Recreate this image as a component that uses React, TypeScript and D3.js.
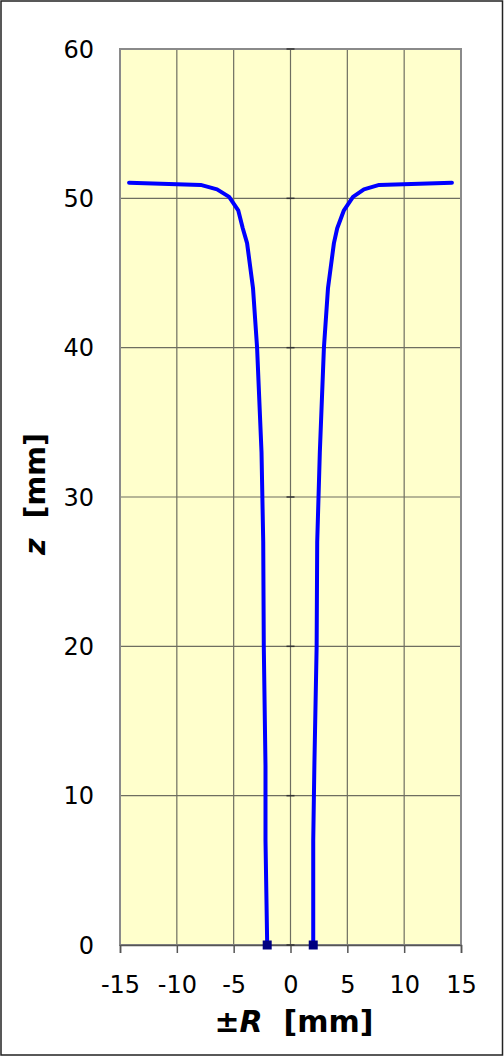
import { useEffect, useRef } from "react";
import * as d3 from "d3";

// heights along the profile (shared by both halves)
const zValues = [0, 7, 12, 20, 27, 33, 40, 44, 47, 48, 49.2, 50.1, 50.6, 50.9, 51.05];
// radius of the right half (+R)
const rightR = [2.0, 2.0, 2.1, 2.3, 2.35, 2.58, 2.94, 3.3, 3.82, 4.11, 4.7, 5.5, 6.46, 7.8, 14.2];
// radius of the left half (-R)
const leftR = [-2.05, -2.2, -2.2, -2.35, -2.4, -2.55, -2.94, -3.3, -3.82, -4.2, -4.6, -5.4, -6.46, -7.9, -14.2];

const xTicks = [-15, -10, -5, 0, 5, 10, 15];
const yTicks = [0, 10, 20, 30, 40, 50, 60];

const W = 504;
const H = 1058;
const FONT = "'DejaVu Sans', Verdana, sans-serif";

export default function App() {
  const svgRef = useRef<SVGSVGElement>(null);

  useEffect(() => {
    if (!svgRef.current) return;
    const svg = d3.select(svgRef.current);
    svg.selectAll("*").remove();

    const margin = { top: 49, right: 43, bottom: 113, left: 120 };
    const innerWidth = W - margin.left - margin.right;
    const innerHeight = H - margin.top - margin.bottom;

    const x = d3.scaleLinear().domain([-15, 15]).range([0, innerWidth]);
    const y = d3.scaleLinear().domain([0, 60]).range([innerHeight, 0]);

    // outer frame
    svg
      .append("rect")
      .attr("x", 1)
      .attr("y", 1)
      .attr("width", W - 2.5)
      .attr("height", H - 4)
      .attr("fill", "#fff")
      .attr("stroke", "#222")
      .attr("stroke-width", 1.5);

    const g = svg
      .append("g")
      .attr("transform", `translate(${margin.left},${margin.top})`);

    // plot background
    g.append("rect")
      .attr("width", innerWidth)
      .attr("height", innerHeight)
      .attr("fill", "#ffffcc");

    // grid
    xTicks.slice(1, -1).forEach((t) => {
      g.append("line")
        .attr("x1", x(t))
        .attr("x2", x(t))
        .attr("y1", 0)
        .attr("y2", innerHeight)
        .attr("stroke", "#6e6e60")
        .attr("stroke-width", 1.2);
    });
    yTicks.slice(1, -1).forEach((t) => {
      g.append("line")
        .attr("x1", 0)
        .attr("x2", innerWidth)
        .attr("y1", y(t))
        .attr("y2", y(t))
        .attr("stroke", "#6e6e60")
        .attr("stroke-width", 1.2);
    });

    // plot border
    g.append("rect")
      .attr("width", innerWidth)
      .attr("height", innerHeight)
      .attr("fill", "none")
      .attr("stroke", "#8a8a8a")
      .attr("stroke-width", 2);

    // x axis
    const xAxis = g
      .append("g")
      .attr("transform", `translate(0,${innerHeight})`)
      .call(d3.axisBottom(x).tickValues(xTicks).tickSize(8).tickPadding(23).tickFormat((d) => String(d)));
    xAxis.select(".domain").attr("stroke", "#555").attr("stroke-width", 1.5);
    xAxis.selectAll(".tick line").attr("stroke", "#555").attr("stroke-width", 1.5);
    xAxis
      .selectAll(".tick text")
      .attr("fill", "#000")
      .attr("font-size", 24)
      .attr("font-family", FONT);

    // y axis crosses at x = 0: small tick marks on the line
    yTicks.forEach((t) => {
      g.append("line")
        .attr("x1", x(0) - 4)
        .attr("x2", x(0) + 4)
        .attr("y1", y(t))
        .attr("y2", y(t))
        .attr("stroke", "#333")
        .attr("stroke-width", 1.5);
    });

    // y tick labels
    yTicks.forEach((t) => {
      g.append("text")
        .attr("x", -26)
        .attr("y", y(t))
        .attr("dy", "0.36em")
        .attr("text-anchor", "end")
        .attr("font-size", 24)
        .attr("font-family", FONT)
        .attr("fill", "#000")
        .text(t);
    });

    // profile lines
    const line = d3
      .line<[number, number]>()
      .x((d) => x(d[0]))
      .y((d) => y(d[1]));

    [rightR, leftR].forEach((rs) => {
      const pts = rs.map((r, i) => [r, zValues[i]] as [number, number]);
      g.append("path")
        .datum(pts)
        .attr("fill", "none")
        .attr("stroke", "#0000ff")
        .attr("stroke-width", 4)
        .attr("stroke-linejoin", "round")
        .attr("stroke-linecap", "round")
        .attr("d", line);
      g.append("rect")
        .attr("x", x(pts[0][0]) - 4.5)
        .attr("y", y(pts[0][1]) - 4.5)
        .attr("width", 9)
        .attr("height", 9)
        .attr("fill", "#000080");
    });

    // x axis label
    const xl = svg
      .append("text")
      .attr("x", 294)
      .attr("y", 1032)
      .attr("text-anchor", "middle")
      .attr("font-size", 30)
      .attr("font-weight", "bold")
      .attr("font-family", FONT)
      .attr("fill", "#000");
    xl.append("tspan").text("±");
    xl.append("tspan").attr("font-style", "italic").text("R");
    xl.append("tspan").attr("xml:space", "preserve").text("  [mm]");

    // y axis label
    const yl = svg
      .append("text")
      .attr("transform", "translate(45,494) rotate(-90)")
      .attr("text-anchor", "middle")
      .attr("font-size", 28.5)
      .attr("font-weight", "bold")
      .attr("font-family", FONT)
      .attr("fill", "#000");
    yl.append("tspan").attr("font-style", "italic").text("z");
    yl.append("tspan").attr("xml:space", "preserve").text("  [mm]");
  }, []);

  return (
    <svg
      ref={svgRef}
      width={W}
      height={H}
      style={{ position: "absolute", left: 0, top: 0, display: "block" }}
    />
  );
}
